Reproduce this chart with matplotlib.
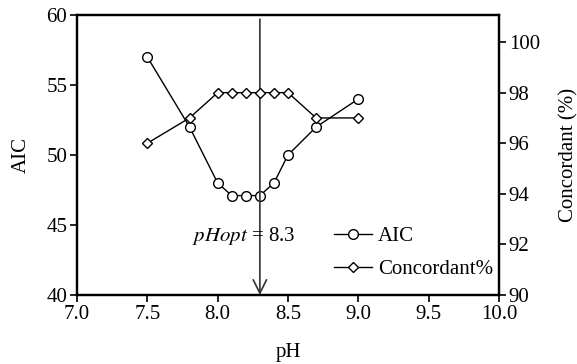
import matplotlib as mpl
mpl.use('Agg')
import matplotlib.pyplot as plt

plt.rcParams['font.family'] = ['Liberation Serif', 'DejaVu Serif']
plt.rcParams['mathtext.fontset'] = 'stix'

ph = [7.5, 7.8, 8.0, 8.1, 8.2, 8.3, 8.4, 8.5, 8.7, 9.0]
aic = [57, 52, 48, 47.1, 47.1, 47.1, 48, 50, 52, 54]
concordant = [96, 97, 98, 98, 98, 98, 98, 98, 97, 97]
ph_opt = 8.3

fs = 15

fig = plt.figure(figsize=(5.77, 3.64), dpi=100)
ax = fig.add_axes([77/577, 1 - 295/364, 422/577, 280/364])
ax2 = ax.twinx()

l1, = ax.plot(ph, aic, color='black', lw=1, marker='o', ms=7,
              mfc='white', mec='black', mew=1, label='AIC')
l2, = ax2.plot(ph, concordant, color='black', lw=1, marker='D', ms=5.5,
               mfc='white', mec='black', mew=1, label='Concordant%')

ax.set_xlim(7.0, 10.0)
ax.set_ylim(40, 60)
ax2.set_ylim(90, 101.07)
ax.set_xticks([7.0, 7.5, 8.0, 8.5, 9.0, 9.5, 10.0])
ax.set_xticklabels(['7.0', '7.5', '8.0', '8.5', '9.0', '9.5', '10.0'])
ax.set_yticks([40, 45, 50, 55, 60])
ax2.set_yticks([90, 92, 94, 96, 98, 100])

for a in (ax, ax2):
    for s in a.spines.values():
        s.set_linewidth(1.6)
    a.tick_params(direction='out', length=5, width=1.2, labelsize=fs, pad=2)

ax.set_xlabel('pH', fontsize=fs, labelpad=14)
ax.set_ylabel('AIC', fontsize=fs, labelpad=11)
ax2.set_ylabel('Concordant (%)', fontsize=fs, labelpad=14)

# arrow marking optimum pH
ax.annotate('', xy=(ph_opt, 40), xytext=(ph_opt, 59.7),
            arrowprops=dict(arrowstyle='->', lw=1.2, color='#333333',
                            mutation_scale=24, shrinkA=0, shrinkB=0))
ax.text(7.82, 44.2, r'$\it{pHopt}$ = 8.3', fontsize=fs, va='center', ha='left')

ax2.legend([l1, l2], ['AIC', 'Concordant%'], loc='lower right',
           bbox_to_anchor=(1.0 + 10/422, 0.0), frameon=False, fontsize=fs,
           handlelength=1.8, handletextpad=0.3, labelspacing=0.65,
           borderaxespad=0.55, borderpad=0.2)

fig.savefig('out.png', dpi=100)
